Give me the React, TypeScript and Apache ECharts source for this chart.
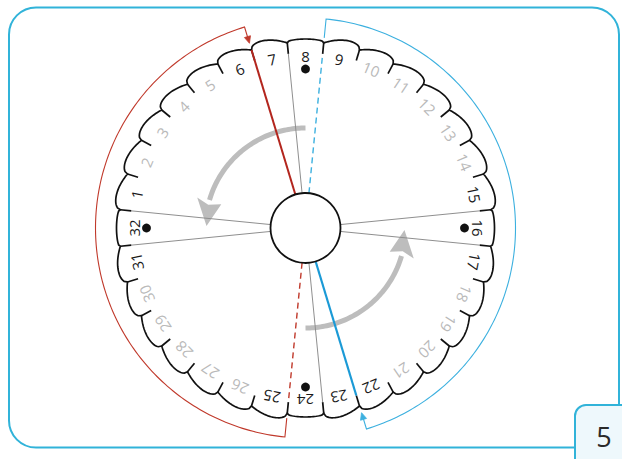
import React, { useEffect, useRef } from "react";
import * as echarts from "echarts";

// ---- data ----
const slotNumbers = [1, 2, 3, 4, 5, 6, 7, 8, 9, 10, 11, 12, 13, 14, 15, 16, 17, 18, 19, 20, 21, 22, 23, 24, 25, 26, 27, 28, 29, 30, 31, 32];
const darkSlots = [1, 6, 7, 8, 9, 15, 16, 17, 22, 23, 24, 25, 31, 32];
const dotSlots = [8, 16, 24, 32];
const flatSlots = [8, 16, 24, 32];
const rightHalfSlots = [9, 10, 11, 12, 13, 14, 15, 16, 17, 18, 19, 20, 21, 22, 23];
const grayDividers = [0.5, 7.5, 15.5, 16.5, 23.5, 31.5];
const redSolidDividers = [6.5];
const redDashedDividers = [24.5];
const blueSolidDividers = [22.5];
const blueDashedDividers = [8.5];
const turnArrows = [
  [8, 0.1],
  [24, 16.1],
]; // [from slot position, to slot position]
const redBracket = [24.5, 38.5];
const blueBracket = [8.5, 22.5];
const pageNumber = "5";

// ---- layout (radius in px, angle in slot units) ----
const R_MAX = 215;
const R_HUB = 35;
const R_NOTCH = 175;
const R_EDGE = 186;
const R_LABEL = 172;
const R_DOT = 159;
const R_TURN = 100;
const R_BRACKET = 210;
const R_TICK = 191;

const RED = "#c0392b";
const RED_DARK = "#b3261e";
const BLUE = "#3cb0df";
const BLUE_DARK = "#1b9ad6";
const FRAME = "#31b3d9";

const wrap = (a: number) => ((a % 32) + 32) % 32;
const pt = (api: any, r: number, a: number) => api.coord([r, wrap(a)]);
const arc = (api: any, r: number, a0: number, a1: number, steps: number) => {
  const pts: number[][] = [];
  for (let i = 0; i <= steps; i++) pts.push(pt(api, r, a0 + ((a1 - a0) * i) / steps));
  return pts;
};

const single = [[0, 0]];

function dividerSeries(list: number[], color: string, width: number, outer: number, dash: number[] | null) {
  return {
    type: "custom",
    coordinateSystem: "polar",
    silent: true,
    z: 3,
    data: list.map((a) => [R_HUB, a]),
    renderItem: (params: any, api: any) => {
      const a = list[params.dataIndex];
      const p0 = pt(api, R_HUB, a);
      const p1 = pt(api, outer, a);
      return {
        type: "line",
        shape: { x1: p0[0], y1: p0[1], x2: p1[0], y2: p1[1] },
        style: { stroke: color, lineWidth: width, lineDash: dash || undefined, fill: "none" },
      };
    },
  };
}

function bracketSeries(range: number[], color: string) {
  return {
    type: "custom",
    coordinateSystem: "polar",
    silent: true,
    z: 3,
    data: single,
    renderItem: (params: any, api: any) => {
      const [s, e] = range;
      const pts = [pt(api, R_TICK, s), ...arc(api, R_BRACKET, s, e, 160), pt(api, 197, e)];
      const tip = pt(api, 193, e);
      const b1 = pt(api, 200, e - 0.08);
      const b2 = pt(api, 200, e + 0.08);
      return {
        type: "group",
        children: [
          { type: "polyline", shape: { points: pts }, style: { stroke: color, lineWidth: 1.1, fill: "none" } },
          { type: "polygon", shape: { points: [tip, b1, b2] }, style: { fill: color, stroke: color, lineWidth: 0.8 } },
        ],
      };
    },
  };
}

const option: any = {
  animation: false,
  backgroundColor: "#ffffff",
  polar: { center: [305.5, 228], radius: R_MAX },
  angleAxis: {
    type: "value",
    min: 0,
    max: 32,
    startAngle: 180,
    clockwise: true,
    show: false,
    axisLine: { show: false },
    axisTick: { show: false },
    axisLabel: { show: false },
    splitLine: { show: false },
  },
  radiusAxis: {
    type: "value",
    min: 0,
    max: R_MAX,
    show: false,
    axisLine: { show: false },
    axisTick: { show: false },
    axisLabel: { show: false },
    splitLine: { show: false },
  },
  graphic: [
    {
      type: "rect",
      z: 0,
      shape: { x: 9, y: 7.5, width: 610, height: 440, r: 27 },
      style: { fill: "none", stroke: FRAME, lineWidth: 2 },
    },
    {
      type: "rect",
      z: 1,
      shape: { x: 575, y: 405, width: 60, height: 70, r: [11, 0, 0, 0] },
      style: { fill: "#eef8fc", stroke: FRAME, lineWidth: 2 },
    },
    {
      type: "text",
      z: 2,
      x: 604,
      y: 436,
      style: {
        text: pageNumber,
        fill: "#2a2a2a",
        fontSize: 27,
        fontFamily: "Open Sans",
        align: "center",
        verticalAlign: "middle",
      },
    },
  ],
  series: [
    // disk outline with scalloped edge
    {
      type: "custom",
      coordinateSystem: "polar",
      silent: true,
      z: 1,
      data: single,
      renderItem: (params: any, api: any) => {
        const pts: number[][] = [];
        const N = 24;
        slotNumbers.forEach((k) => {
          const a0 = k - 0.5;
          const flat = flatSlots.includes(k);
          const right = rightHalfSlots.includes(k);
          for (let i = 0; i < N; i++) {
            const t = i / N;
            let dr: number;
            if (flat) {
              dr = 3 * Math.pow(Math.sin(Math.PI * t), 0.3);
            } else {
              const u = right ? t : 1 - t;
              dr = 6 * ((u * Math.sqrt(Math.max(0, 1 - u))) / 0.385);
            }
            pts.push(pt(api, R_EDGE + dr, a0 + t));
          }
        });
        const notches = slotNumbers.map((k) => {
          const p0 = pt(api, R_NOTCH, k + 0.5);
          const p1 = pt(api, R_EDGE, k + 0.5);
          return {
            type: "line",
            shape: { x1: p0[0], y1: p0[1], x2: p1[0], y2: p1[1] },
            style: { stroke: "#111", lineWidth: 1.7 },
          };
        });
        return {
          type: "group",
          children: [
            { type: "polygon", shape: { points: pts }, style: { fill: "#fff", stroke: "#111", lineWidth: 1.7 } },
            ...notches,
          ],
        };
      },
    },
    dividerSeries(grayDividers, "#8f8f8f", 1, R_NOTCH, null),
    dividerSeries(redSolidDividers, RED_DARK, 2, R_EDGE, null),
    dividerSeries(redDashedDividers, RED, 1.4, R_NOTCH, [6, 4]),
    dividerSeries(blueSolidDividers, BLUE_DARK, 2.2, R_NOTCH, null),
    dividerSeries(blueDashedDividers, BLUE, 1.4, R_NOTCH, [6, 4]),
    // hub circle
    {
      type: "custom",
      coordinateSystem: "polar",
      silent: true,
      z: 4,
      data: single,
      renderItem: (params: any, api: any) => {
        const c = pt(api, 0, 0);
        const e = pt(api, R_HUB, 0);
        const r = Math.hypot(e[0] - c[0], e[1] - c[1]);
        return {
          type: "circle",
          shape: { cx: c[0], cy: c[1], r },
          style: { fill: "#fff", stroke: "#111", lineWidth: 1.8 },
        };
      },
    },
    // slot labels
    {
      type: "custom",
      coordinateSystem: "polar",
      silent: true,
      z: 5,
      data: slotNumbers.map((k) => [R_LABEL, k]),
      renderItem: (params: any, api: any) => {
        const k = slotNumbers[params.dataIndex];
        const p = pt(api, R_LABEL, k);
        const dark = darkSlots.includes(k);
        return {
          type: "text",
          x: p[0],
          y: p[1],
          rotation: (-(k - 8) * Math.PI) / 16,
          style: {
            text: String(k),
            fill: dark ? "#1a1a1a" : "#b9b9b9",
            fontSize: 15,
            fontFamily: "Open Sans",
            align: "center",
            verticalAlign: "middle",
            textAlign: "center",
            textVerticalAlign: "middle",
          },
        };
      },
    },
    // dots
    {
      type: "custom",
      coordinateSystem: "polar",
      silent: true,
      z: 5,
      data: dotSlots.map((k) => [R_DOT, k]),
      renderItem: (params: any, api: any) => {
        const k = dotSlots[params.dataIndex];
        const p = pt(api, R_DOT, k);
        return { type: "circle", shape: { cx: p[0], cy: p[1], r: 4.4 }, style: { fill: "#111" } };
      },
    },
    // turning arrows
    {
      type: "custom",
      coordinateSystem: "polar",
      silent: true,
      z: 2,
      data: turnArrows,
      renderItem: (params: any, api: any) => {
        const [from, to] = turnArrows[params.dataIndex];
        const dir = Math.sign(from - to);
        const base = to + dir * 1.3;
        const shaft = arc(api, R_TURN, from, base + dir * 0.05, 60);
        const tip = pt(api, R_TURN - 1, to);
        const b1 = pt(api, R_TURN - 12.5, base);
        const b2 = pt(api, R_TURN + 12.5, base);
        const mid = pt(api, R_TURN, base - dir * 0.2);
        return {
          type: "group",
          children: [
            { type: "polyline", shape: { points: shaft }, style: { stroke: "#bdbdbd", lineWidth: 5, fill: "none" } },
            { type: "polygon", shape: { points: [tip, b1, mid, b2] }, style: { fill: "#bdbdbd" } },
          ],
        };
      },
    },
    bracketSeries(redBracket, RED),
    bracketSeries(blueBracket, BLUE),
  ],
};

export default function App() {
  const ref = useRef<HTMLDivElement>(null);
  useEffect(() => {
    const chart = echarts.init(ref.current as HTMLDivElement, null, { renderer: "svg" });
    chart.setOption(option);
    return () => chart.dispose();
  }, []);
  return (
    <div
      ref={ref}
      style={{ position: "absolute", left: 0, top: 0, width: 622, height: 459, background: "#fff" }}
    />
  );
}
